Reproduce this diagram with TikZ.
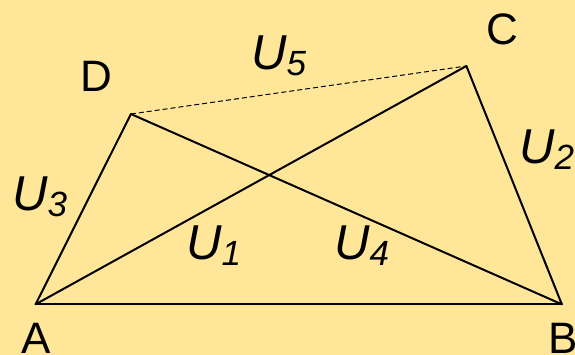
\documentclass[tikz,border=0pt]{standalone}
\usepackage{fontspec}
\setmainfont{Liberation Sans}
\definecolor{bg}{RGB}{255,230,153}
\tikzset{
  edge/.style={line width=2pt, line cap=round, line join=round},
  dashedge/.style={line width=1pt, dash pattern=on 5pt off 3pt},
  pt/.style={inner sep=0pt, anchor=base, font=\fontsize{44}{44}\selectfont},
  ulab/.style={inner sep=0pt, anchor=base west, font=\fontsize{49}{49}\selectfont\itshape},
}
\newcommand{\Ulab}[1]{U\raisebox{-6pt}{\fontsize{35}{35}\selectfont #1}}
\begin{document}
\begin{tikzpicture}[x=1pt,y=-1pt]
\fill[bg] (0,0) rectangle (575,355);
\useasboundingbox (0,0) rectangle (575,355);
\coordinate (A) at (35.6,304.3);
\coordinate (B) at (561.8,304.3);
\coordinate (C) at (466.4,66);
\coordinate (D) at (130.9,114);
\draw[edge] (A) -- (B);
\draw[edge] (B) -- (C);
\draw[edge] (A) -- (D);
\draw[edge] (A) -- (C);
\draw[edge] (D) -- (B);
\draw[dashedge] (D) -- (C);
\node[pt] (lA) at (36,353.4) {A};
\node[pt] (lB) at (563,353.4) {B};
\node[pt] (lC) at (502.5,44.5) {C};
\node[pt] (lD) at (96,91.5) {D};
\node[ulab] (u5) at (251,69.5) {\Ulab{5}};
\node[ulab] (u3) at (12,211) {\Ulab{3}};
\node[ulab] (u2) at (519,163.5) {\Ulab{2}};
\node[ulab] (u1) at (186,259.5) {\Ulab{1}};
\node[ulab] (u4) at (334,259.5) {\Ulab{4}};
\end{tikzpicture}
\end{document}
